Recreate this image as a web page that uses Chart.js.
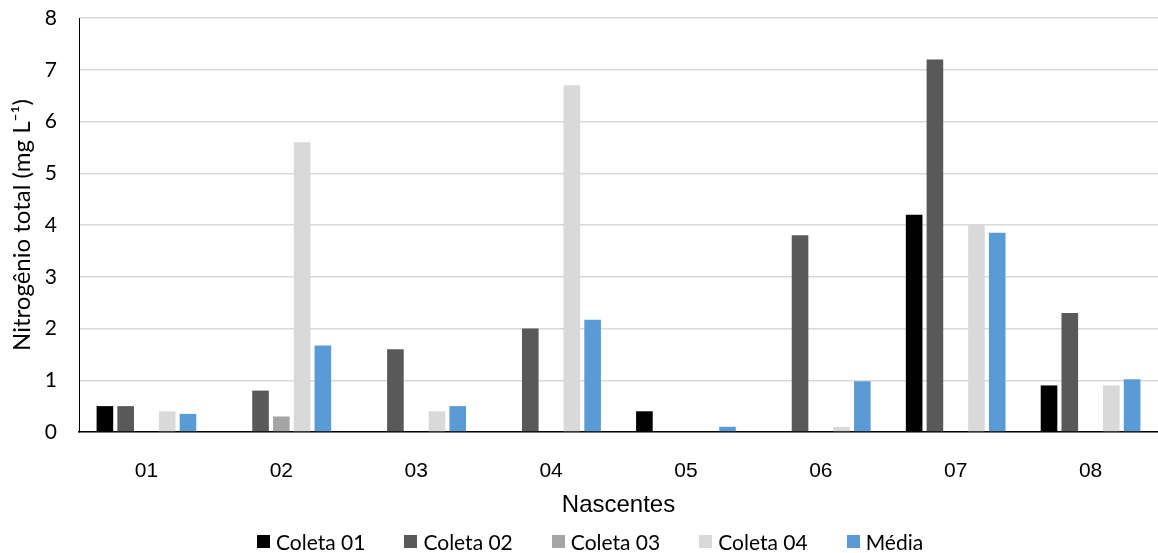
<!DOCTYPE html>
<html>
<head>
<meta charset="utf-8">
<script src="https://cdn.jsdelivr.net/npm/chart.js@4"></script>
<style>
  html, body { margin: 0; padding: 0; background: #fff; }
  #wrap { position: relative; width: 1158px; height: 553px; }
  #legend {
    position: absolute; left: 257px; top: 529px; height: 24px;
    display: flex; align-items: center; gap: 39px;
    font-family: Lato, "Open Sans", sans-serif; font-size: 21px; color: #000;
  }
  #legend .item { display: flex; align-items: center; gap: 6px; }
  #legend .box { width: 13px; height: 13px; display: inline-block; }
</style>
</head>
<body>
<div id="wrap">
  <canvas id="nChart"></canvas>
  <div id="legend"></div>
</div>
<script>
const nascentes = ["01", "02", "03", "04", "05", "06", "07", "08"];
const coleta01 = [0.5, 0, 0, 0, 0.4, 0, 4.2, 0.9];
const coleta02 = [0.5, 0.8, 1.6, 2.0, 0, 3.8, 7.2, 2.3];
const coleta03 = [0, 0.3, 0, 0, 0, 0, 0, 0];
const coleta04 = [0.4, 5.6, 0.4, 6.7, 0, 0.1, 4.0, 0.9];
const media = [0.35, 1.67, 0.5, 2.17, 0.1, 0.98, 3.85, 1.02];
const yTicks = [0, 1, 2, 3, 4, 5, 6, 7, 8];

const calibri = "Lato, 'Open Sans', sans-serif";
const arial = "'Liberation Sans', Arial, sans-serif";

function serie(label, data, color) {
    return {
        label: label,
        data: data,
        backgroundColor: color,
        borderWidth: 0,
        categoryPercentage: 0.77,
        barPercentage: 0.8
    };
}

const ctx = document.getElementById("nChart").getContext("2d");
const chart = new Chart(ctx, {
    type: "bar",
    data: {
        labels: nascentes,
        datasets: [
            serie("Coleta 01", coleta01, "#000000"),
            serie("Coleta 02", coleta02, "#595959"),
            serie("Coleta 03", coleta03, "#a5a5a5"),
            serie("Coleta 04", coleta04, "#d9d9d9"),
            serie("Média", media, "#5b9bd5")
        ]
    },
    options: {
        responsive: true,
        maintainAspectRatio: false,
        animation: false,
        layout: { padding: { top: 18, right: 0, bottom: 33, left: 0 } },
        plugins: {
            tooltip: { enabled: false },
            legend: { display: false }
        },
        scales: {
            x: {
                grid: { display: false },
                border: { color: "#000", width: 1.5 },
                ticks: {
                    font: { family: arial, size: 21 },
                    color: "#000",
                    padding: 19
                },
                title: {
                    display: true,
                    text: "Nascentes",
                    font: { family: arial, size: 24 },
                    color: "#000",
                    padding: { top: 0, bottom: 0 }
                },
                afterFit: (scale) => { scale.height = 88; }
            },
            y: {
                min: 0,
                max: 8,
                afterBuildTicks: (scale) => {
                    scale.ticks = yTicks.map(v => ({ value: v }));
                },
                grid: { color: "#d9d9d9", lineWidth: 1.5, drawTicks: false },
                border: { color: "#000", width: 1 },
                ticks: {
                    font: { family: calibri, size: 21 },
                    color: "#000",
                    padding: 22
                },
                title: {
                    display: true,
                    text: "Nitrogênio total (mg L⁻¹)",
                    font: { family: calibri, size: 24 },
                    color: "#000",
                    padding: { top: 8, bottom: 0 }
                },
                afterFit: (scale) => {
                    scale.width = 79;
                    scale.paddingTop = 0;
                    scale.paddingBottom = 0;
                }
            }
        }
    }
});

// legenda em HTML, mesmas cores dos datasets
const legendEl = document.getElementById("legend");
chart.data.datasets.forEach(ds => {
    const item = document.createElement("span");
    item.className = "item";
    const box = document.createElement("span");
    box.className = "box";
    box.style.background = ds.backgroundColor;
    const txt = document.createElement("span");
    txt.textContent = ds.label;
    item.appendChild(box);
    item.appendChild(txt);
    legendEl.appendChild(item);
});
</script>
</body>
</html>
